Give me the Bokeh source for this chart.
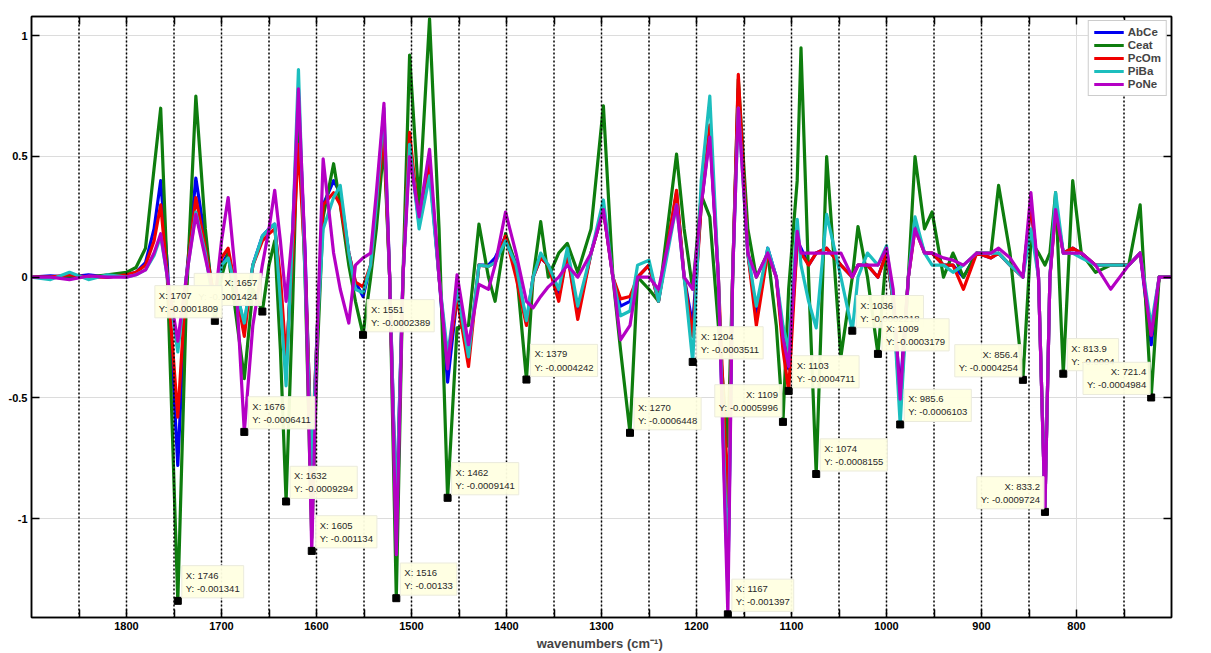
from bokeh.plotting import figure
from bokeh.models import Range1d, LinearAxis, FixedTicker, Span, Label, Legend, LegendItem
from bokeh.embed import file_html
from bokeh.resources import INLINE

# ---------------- data (values in units of 1e-3) ----------------
wavenumber = [1900, 1880, 1860, 1840, 1820, 1800, 1790, 1780, 1771, 1764,
              1757, 1746, 1737, 1727, 1717, 1707, 1700, 1693, 1685, 1676,
              1667, 1657, 1650, 1644, 1638, 1632, 1625, 1619, 1612, 1605,
              1599, 1593, 1582, 1575, 1566, 1559, 1551, 1543, 1537, 1529,
              1523, 1516, 1509, 1502, 1492, 1481, 1471, 1462, 1452, 1440,
              1429, 1419, 1412, 1401, 1390, 1379, 1372, 1364, 1356, 1345,
              1336, 1325, 1311, 1298, 1288, 1280, 1270, 1262, 1250, 1240,
              1221, 1213, 1204, 1195, 1186, 1177, 1167, 1162, 1156, 1146,
              1137, 1125, 1116, 1109, 1103, 1094, 1090, 1082, 1074, 1063,
              1048, 1036, 1030, 1020, 1009, 1000, 993, 985.6, 977, 970,
              960, 952, 940, 930, 919, 905, 890, 882, 870, 856.4,
              848, 840, 833.2, 828, 822, 813.9, 804, 795, 780, 764,
              745, 733, 721.4, 713, 700]

AbCe = [0, 0.005, 0.0, 0.01, 0.0, 0.01, 0.02, 0.06, 0.2, 0.40,
        0.05, -0.78, 0.0, 0.41, 0.15, -0.12, 0.05, 0.10, -0.05, -0.20,
        0.05, 0.17, 0.20, 0.22, -0.05, -0.40, 0.20, 0.72, 0.10, -0.80,
        -0.20, 0.30, 0.40, 0.35, 0.10, -0.02, -0.08, 0.05, 0.30, 0.65,
        0.0, -1.00, 0.0, 0.55, 0.22, 0.45, 0.0, -0.435, -0.08, -0.33,
        0.05, 0.05, 0.08, 0.17, 0.05, -0.19, 0.0, 0.08, 0.05, -0.08,
        0.10, -0.15, 0.10, 0.28, 0.0, -0.12, -0.10, 0.0, 0.05, -0.10,
        0.35, 0.0, -0.20, 0.30, 0.60, 0.0, -1.30, 0.0, 0.78, 0.10,
        -0.15, 0.12, 0.0, -0.25, -0.38, 0.15, 0.12, 0.05, 0.10, 0.12,
        0.05, 0.0, 0.05, 0.05, 0.0, 0.10, -0.10, -0.47, 0.0, 0.22,
        0.10, 0.10, 0.05, 0.05, 0.0, 0.10, 0.08, 0.10, 0.05, 0.0,
        0.30, 0.0, -0.95, 0.0, 0.30, 0.10, 0.12, 0.10, 0.05, 0.05,
        0.05, 0.10, -0.28, 0.0, 0]

Ceat = [0, 0.0, 0.005, 0.0, 0.01, 0.02, 0.04, 0.12, 0.45, 0.70,
        0.0, -1.341, -0.10, 0.75, 0.20, -0.181, 0.0, 0.10, -0.15, -0.42,
        -0.05, -0.142, 0.05, 0.15, -0.30, -0.929, -0.10, 0.75, 0.0, -1.08,
        -0.30, 0.25, 0.47, 0.30, 0.05, -0.10, -0.239, 0.0, 0.20, 0.55,
        0.0, -1.33, 0.0, 0.92, 0.30, 1.07, 0.20, -0.914, -0.21, -0.20,
        0.22, 0.0, -0.10, 0.18, 0.05, -0.424, 0.0, 0.23, 0.0, 0.10,
        0.14, 0.02, 0.20, 0.71, 0.0, -0.30, -0.645, 0.0, -0.05, -0.10,
        0.51, 0.20, -0.05, 0.34, 0.25, -0.20, -0.70, 0.0, 0.82, 0.20,
        0.0, 0.10, -0.20, -0.60, -0.05, 0.40, 0.95, 0.0, -0.816, 0.50,
        -0.33, 0.0, 0.21, 0.0, -0.318, 0.10, -0.10, -0.55, 0.0, 0.50,
        0.20, 0.27, 0.0, 0.10, 0.0, 0.10, 0.10, 0.38, 0.10, -0.425,
        0.15, 0.10, 0.05, 0.10, 0.35, -0.40, 0.40, 0.10, 0.02, 0.05,
        0.05, 0.30, -0.498, 0.0, 0]

PcOm = [0, 0.0, 0.01, 0.0, 0.0, 0.01, 0.02, 0.05, 0.15, 0.30,
        0.0, -0.58, 0.0, 0.33, 0.12, -0.10, 0.08, 0.12, -0.05, -0.245,
        0.05, 0.15, 0.18, 0.20, 0.0, -0.34, 0.10, 0.55, 0.05, -0.75,
        -0.20, 0.30, 0.35, 0.30, 0.10, -0.02, -0.04, 0.05, 0.30, 0.60,
        0.0, -1.05, 0.0, 0.60, 0.22, 0.48, 0.0, -0.36, -0.085, -0.37,
        0.05, 0.045, 0.06, 0.17, 0.0, -0.20, 0.0, 0.08, 0.05, -0.10,
        0.10, -0.175, 0.10, 0.28, 0.0, -0.09, -0.08, 0.0, 0.05, -0.10,
        0.36, 0.0, -0.245, 0.30, 0.63, 0.0, -0.95, 0.0, 0.84, 0.10,
        -0.20, 0.10, 0.0, -0.30, -0.471, 0.15, 0.10, 0.05, 0.10, 0.12,
        0.05, 0.0, 0.05, 0.05, 0.0, 0.10, -0.10, -0.52, 0.0, 0.20,
        0.10, 0.10, 0.05, 0.05, -0.05, 0.10, 0.08, 0.10, 0.05, 0.0,
        0.30, 0.0, -0.95, 0.0, 0.28, 0.10, 0.12, 0.10, 0.05, 0.05,
        0.05, 0.10, -0.24, 0.0, 0]

PiBa = [0, -0.01, 0.02, -0.01, 0.01, 0.0, 0.01, 0.03, 0.09, 0.17,
        0.0, -0.31, 0.0, 0.27, 0.10, -0.15, 0.05, 0.08, -0.05, -0.19,
        0.05, 0.17, 0.20, 0.22, -0.10, -0.45, 0.20, 0.86, 0.0, -0.78,
        -0.20, 0.20, 0.33, 0.38, 0.10, -0.05, -0.065, 0.05, 0.30, 0.70,
        0.0, -1.00, 0.0, 0.55, 0.20, 0.42, 0.0, -0.32, -0.05, -0.33,
        0.05, 0.045, 0.06, 0.15, 0.05, -0.18, 0.0, 0.10, 0.05, -0.05,
        0.12, -0.12, 0.10, 0.32, 0.0, -0.16, -0.14, 0.05, 0.07, -0.10,
        0.30, 0.0, -0.351, 0.40, 0.75, 0.0, -1.25, 0.0, 0.70, 0.10,
        -0.12, 0.12, 0.0, -0.20, -0.30, 0.24, 0.05, -0.10, -0.21, 0.26,
        0.0, -0.222, 0.0, 0.10, 0.05, 0.13, -0.10, -0.6103, 0.0, 0.25,
        0.10, 0.05, 0.05, 0.02, 0.05, 0.10, 0.10, 0.10, 0.05, 0.0,
        0.20, 0.0, -0.95, 0.0, 0.35, 0.10, 0.10, 0.08, 0.05, 0.05,
        0.05, 0.10, -0.20, 0.0, 0]

PoNe = [0, 0.0, -0.01, 0.005, 0.0, 0.0, 0.01, 0.03, 0.10, 0.18,
        0.0, -0.265, 0.0, 0.26, 0.08, -0.10, 0.15, 0.33, 0.0, -0.641,
        -0.20, 0.05, 0.20, 0.36, 0.15, -0.10, 0.20, 0.78, 0.10, -1.134,
        -0.20, 0.49, 0.10, -0.05, -0.19, 0.05, 0.08, 0.10, 0.35, 0.72,
        0.0, -1.15, 0.0, 0.50, 0.25, 0.53, 0.0, -0.38, 0.01, -0.28,
        -0.03, -0.05, 0.05, 0.27, 0.10, -0.10, -0.127, -0.08, -0.04, 0.0,
        0.05, 0.0, 0.10, 0.28, 0.0, -0.26, -0.20, 0.0, 0.0, -0.05,
        0.30, 0.0, -0.05, 0.30, 0.58, 0.0, -1.397, 0.0, 0.70, 0.10,
        0.0, 0.10, 0.0, -0.25, -0.37, 0.19, 0.10, 0.10, 0.10, 0.10,
        0.10, 0.0, 0.05, 0.05, 0.05, 0.12, -0.05, -0.505, 0.0, 0.20,
        0.10, 0.10, 0.08, 0.07, 0.05, 0.10, 0.10, 0.12, 0.08, 0.0,
        0.35, 0.0, -0.972, 0.0, 0.28, 0.10, 0.10, 0.10, 0.05, -0.05,
        0.05, 0.10, -0.24, 0.0, 0]

series_names = ["AbCe", "Ceat", "PcOm", "PiBa", "PoNe"]

# data tips (X in cm^-1, Y in absorbance units)
tip_x = [1657, 1707, 1676, 1551, 1632, 1605, 1746, 1516, 1462, 1379, 1270, 1204,
         1109, 1103, 1167, 1074, 1036, 1009, 985.6, 856.4, 833.2, 813.9, 721.4]
tip_y = [-0.0001424, -0.0001809, -0.0006411, -0.0002389, -0.0009294, -0.001134, -0.001341,
         -0.00133, -0.0009141, -0.0004242, -0.0006448, -0.0003511, -0.0005996, -0.0004711,
         -0.001397, -0.0008155, -0.0002218, -0.0003179, -0.0006103, -0.0004254, -0.0009724,
         -0.0004, -0.0004984]

# vertical reference lines (cm^-1)
ref_lines = [1850, 1800, 1750, 1700, 1650, 1600, 1550, 1500, 1450, 1400, 1350, 1300, 1250,
             1200, 1150, 1100, 1050, 1000, 950, 900, 850, 750]

x_major = [1800, 1700, 1600, 1500, 1400, 1300, 1200, 1100, 1000, 900, 800]
x_minor = [1850, 1750, 1650, 1550, 1450, 1350, 1250, 1150, 1050, 950, 850, 750]
y_major = [-1, -0.5, 0, 0.5, 1]

# ---------------- styling ----------------
colors = ["#0000F0", "#0E7D0E", "#F00000", "#1CBEBE", "#B400C4"]
FONT = "Liberation Sans"

p = figure(width=1211, height=653, output_backend="svg", toolbar_location=None,
           x_range=Range1d(1900, 700), y_range=Range1d(-1.41, 1.08),
           min_border_left=31, min_border_right=40, min_border_top=16, min_border_bottom=34,
           background_fill_color="white", border_fill_color="white")
p.outline_line_color = "black"
p.outline_line_width = 1.5

# grid
p.xgrid.ticker = FixedTicker(ticks=x_major)
p.ygrid.ticker = FixedTicker(ticks=y_major)
p.grid.grid_line_color = "#dcdcdc"
p.grid.grid_line_width = 1

# axes
xa = p.xaxis[0]
xa.ticker = FixedTicker(ticks=x_major, minor_ticks=x_minor)
xa.axis_label = "wavenumbers  (cm\u207b\u00b9)"
ya = p.yaxis[0]
ya.ticker = FixedTicker(ticks=y_major)
ya.major_label_overrides = {-1: "-1", -0.5: "-0.5", 0: "0", 0.5: "0.5", 1: "1"}
for ax in (xa, ya):
    ax.axis_line_color = "black"
    ax.axis_line_width = 1.5
    ax.major_tick_in = 8
    ax.major_tick_out = 0
    ax.minor_tick_in = 8
    ax.minor_tick_out = 0
    ax.major_tick_line_width = 1.5
    ax.minor_tick_line_width = 1.5
    ax.major_label_text_font = FONT
    ax.major_label_text_font_style = "bold"
    ax.major_label_text_font_size = "11px"
    ax.major_label_text_color = "black"
    ax.major_label_standoff = 4
ya.minor_tick_line_color = None
xa.axis_label_text_font = FONT
xa.axis_label_text_font_style = "bold"
xa.axis_label_text_font_size = "13px"
xa.axis_label_standoff = 3

top = LinearAxis(ticker=FixedTicker(ticks=x_major, minor_ticks=x_minor),
                 major_label_overrides={v: "" for v in x_major}, major_label_standoff=0)
right = LinearAxis(ticker=FixedTicker(ticks=y_major),
                   major_label_overrides={v: "" for v in y_major}, major_label_standoff=0)
for ax in (top, right):
    ax.axis_line_color = "black"
    ax.axis_line_width = 1.5
    ax.major_tick_in = 8
    ax.major_tick_out = 0
    ax.minor_tick_in = 8
    ax.minor_tick_out = 0
    ax.major_tick_line_width = 1.5
    ax.minor_tick_line_width = 1.5
    ax.major_label_text_font_size = "1px"
right.minor_tick_line_color = None
p.add_layout(top, "above")
p.add_layout(right, "right")

# dotted vertical reference lines
for wn in ref_lines:
    p.add_layout(Span(location=wn, dimension="height", line_color="black",
                      line_dash="2 2", line_width=1.5))

# spectra
series = [AbCe, Ceat, PcOm, PiBa, PoNe]
items = []
for name, ys, c in zip(series_names, series, colors):
    r = p.line(wavenumber, ys, line_color=c, line_width=3.2, line_join="round")
    items.append(LegendItem(label=name, renderers=[r]))

legend = Legend(items=items, location="top_right")
legend.label_text_font = FONT
legend.label_text_font_style = "bold"
legend.label_text_font_size = "11.5px"
legend.glyph_width = 30
legend.glyph_height = 12
legend.label_height = 12
legend.spacing = 1
legend.padding = 5
legend.margin = 4
legend.label_standoff = 4
legend.border_line_color = "#9a9a9a"
legend.border_line_width = 1
legend.background_fill_alpha = 1
p.add_layout(legend, "center")

# data tip markers
p.scatter([v for v in tip_x], [v * 1000 for v in tip_y], marker="square", size=7,
          fill_color="black", line_color="black")

# data tip boxes: (x_offset, y_offset, align)
tip_layout = {1707: (-60, 3, "left"), 1657: (-1, 6, "right"), 1109: (-1, 5, "right"),
              856.4: (-1, 3, "right"), 833.2: (-1, 3, "right"), 721.4: (-1, 3, "right")}
for xv, yv in zip(tip_x, tip_y):
    dx, dy, al = tip_layout.get(xv, (4, 3, "left"))
    p.add_layout(Label(x=xv, y=yv * 1000, x_offset=dx, y_offset=dy,
                       text="X: %s\nY: %s" % (xv, yv), text_align=al, text_baseline="bottom",
                       text_font=FONT, text_font_size="9.5px", text_color="#282828",
                       text_line_height=1.2,
                       background_fill_color="#FFFFE1", background_fill_alpha=0.95,
                       border_line_color="#ebebdc", padding=4))

open("out.html", "w").write(file_html(p, INLINE))
